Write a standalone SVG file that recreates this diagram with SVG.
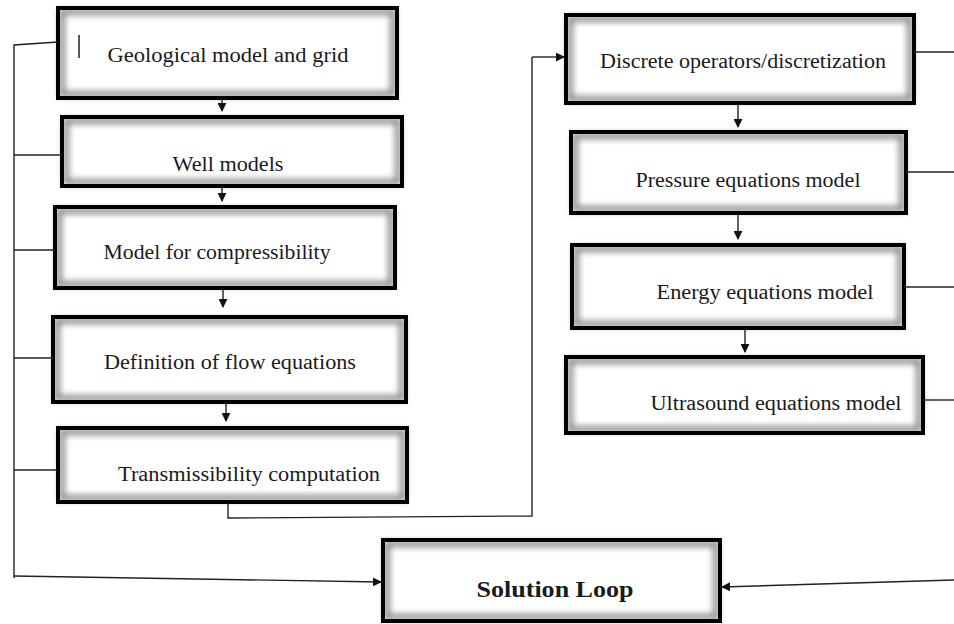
<svg xmlns="http://www.w3.org/2000/svg" width="954" height="624" viewBox="0 0 954 624">
<style>
.bg{fill:#fff}
.sh{fill:none;stroke:#8a8a8a;stroke-width:6;filter:url(#blur)}
.bd{fill:none;stroke:#000;stroke-width:4}
.t{font-family:"Liberation Serif","Times New Roman",serif;font-size:20px;fill:#1a1a1a;text-anchor:middle}
.b{font-weight:bold;font-size:24px}
.ln{fill:none;stroke:#222;stroke-width:1.4}
.ar{fill:none;stroke:#222;stroke-width:1.4;marker-end:url(#ah)}
</style>
<defs>
<filter id="blur" x="-10%" y="-20%" width="120%" height="140%"><feGaussianBlur stdDeviation="3"/></filter>
<marker id="ah" viewBox="0 0 10 10" refX="9" refY="5" markerWidth="9" markerHeight="9" markerUnits="userSpaceOnUse" orient="auto"><path d="M0,0 L10,5 L0,10 z" fill="#111"/></marker>
</defs>
<rect width="954" height="624" fill="#fff"/>

<g id="n1"><rect class="bg" x="58" y="8" width="339" height="90"/><rect class="sh" x="62" y="12" width="331" height="82"/><rect class="bd" x="58" y="8" width="339" height="90"/><line x1="79" y1="35" x2="79" y2="58" stroke="#222" stroke-width="1.5"/><text class="t" x="228" y="62" textLength="241" lengthAdjust="spacingAndGlyphs">Geological  model and grid</text></g>
<g id="n2"><rect class="bg" x="62" y="117" width="340" height="69"/><rect class="sh" x="66" y="121" width="332" height="61"/><rect class="bd" x="62" y="117" width="340" height="69"/><text class="t" x="228" y="171" textLength="111" lengthAdjust="spacingAndGlyphs">Well models</text></g>
<g id="n3"><rect class="bg" x="55" y="207" width="340" height="81"/><rect class="sh" x="59" y="211" width="332" height="73"/><rect class="bd" x="55" y="207" width="340" height="81"/><text class="t" x="217" y="259" textLength="227" lengthAdjust="spacingAndGlyphs">Model for compressibility</text></g>
<g id="n4"><rect class="bg" x="53" y="317" width="353" height="85"/><rect class="sh" x="57" y="321" width="345" height="77"/><rect class="bd" x="53" y="317" width="353" height="85"/><text class="t" x="230" y="369" textLength="252" lengthAdjust="spacingAndGlyphs">Definition  of flow equations</text></g>
<g id="n5"><rect class="bg" x="58" y="428" width="349" height="74"/><rect class="sh" x="62" y="432" width="341" height="66"/><rect class="bd" x="58" y="428" width="349" height="74"/><text class="t" x="249" y="481" textLength="262" lengthAdjust="spacingAndGlyphs">Transmissibility  computation</text></g>

<g id="n6"><rect class="bg" x="566" y="15" width="348" height="88"/><rect class="sh" x="570" y="19" width="340" height="80"/><rect class="bd" x="566" y="15" width="348" height="88"/><text class="t" x="743" y="68" textLength="286" lengthAdjust="spacingAndGlyphs">Discrete  operators/discretization</text></g>
<g id="n7"><rect class="bg" x="571" y="132" width="335" height="81"/><rect class="sh" x="575" y="136" width="327" height="73"/><rect class="bd" x="571" y="132" width="335" height="81"/><text class="t" x="748" y="187" textLength="225" lengthAdjust="spacingAndGlyphs">Pressure  equations  model</text></g>
<g id="n8"><rect class="bg" x="572" y="245" width="332" height="83"/><rect class="sh" x="576" y="249" width="324" height="75"/><rect class="bd" x="572" y="245" width="332" height="83"/><text class="t" x="765" y="299" textLength="217" lengthAdjust="spacingAndGlyphs">Energy  equations  model</text></g>
<g id="n9"><rect class="bg" x="566" y="357" width="357" height="76"/><rect class="sh" x="570" y="361" width="349" height="68"/><rect class="bd" x="566" y="357" width="357" height="76"/><text class="t" x="776" y="410" textLength="251" lengthAdjust="spacingAndGlyphs">Ultrasound  equations  model</text></g>

<g id="n10"><rect class="bg" x="383" y="540" width="337" height="81"/><rect class="sh" x="387" y="544" width="329" height="73"/><rect class="bd" x="383" y="540" width="337" height="81"/><text class="t b" x="555" y="597" textLength="157" lengthAdjust="spacingAndGlyphs">Solution Loop</text></g>

<g id="connectors">
<path class="ar" d="M222,100 V111"/>
<path class="ar" d="M222,188 V201"/>
<path class="ar" d="M223,290 V307"/>
<path class="ar" d="M226,404 V421"/>
<path class="ar" d="M738,105 V127"/>
<path class="ar" d="M738,215 V239"/>
<path class="ar" d="M745,330 V352"/>
<path class="ln" d="M58,42 L14,45 V578"/>
<path class="ln" d="M62,155 H14"/>
<path class="ln" d="M55,250 H14"/>
<path class="ln" d="M53,358 H14"/>
<path class="ln" d="M58,470 H14"/>
<path class="ar" d="M14,576 L381,582"/>
<path class="ln" d="M228,503 V518 L532,516 V57"/>
<path class="ar" d="M532,57 H564"/>
<path class="ln" d="M914,52 H954"/>
<path class="ln" d="M906,172 H954"/>
<path class="ln" d="M904,287 H954"/>
<path class="ln" d="M923,400 H954"/>
<path class="ar" d="M954,580 L722,587"/>
</g>
</svg>
